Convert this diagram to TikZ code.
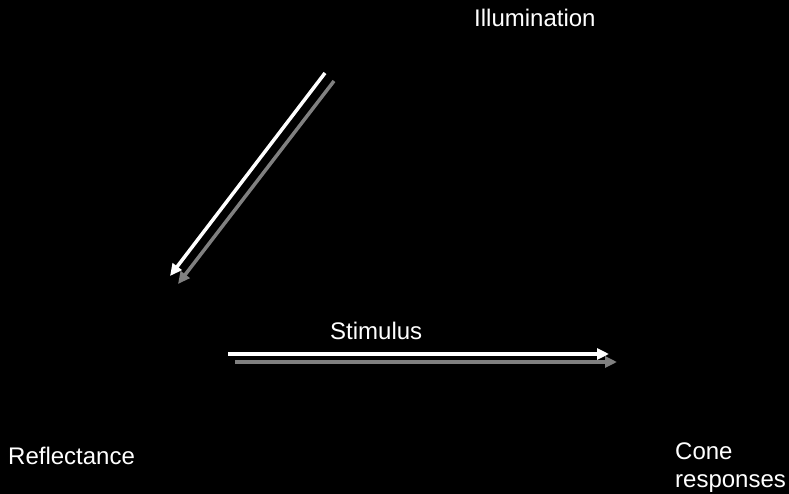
\documentclass[tikz,border=0pt]{standalone}
\usepackage{fontspec}
\setmainfont{Liberation Sans}
\usetikzlibrary{arrows.meta}
\tikzset{
    label text/.style={text=white, font=\fontsize{24}{28}\selectfont, inner sep=0pt, anchor=west},
    front arrow/.style={draw=white, line width=3.5pt, -{Triangle[length=12pt, width=11pt]}},
    shadow arrow/.style={draw=gray, line width=3.5pt, -{Triangle[length=12pt, width=11pt]}},
}
\begin{document}
\begin{tikzpicture}[x=1pt, y=-1pt]
    \fill[black] (0,0) rectangle (789,494);
    \useasboundingbox (0,0) rectangle (789,494);
    \node[label text] (illum) at (474,18) {Illumination};
    \node[label text] (stim) at (330,331) {Stimulus};
    \node[label text] (refl) at (8,456) {Reflectance};
    \node[label text, align=left, anchor=north west] (cone) at (675,443) {Cone\\responses};
    \coordinate (illum start) at (325,73);
    \coordinate (illum end) at (170,276);
    \coordinate (illum shadow start) at (334,81);
    \coordinate (illum shadow end) at (178,284);
    \coordinate (stim start) at (228,354);
    \coordinate (stim end) at (609,354);
    \coordinate (stim shadow start) at (235,362);
    \coordinate (stim shadow end) at (617,362);
    \draw[shadow arrow] (illum shadow start) -- (illum shadow end);
    \draw[front arrow] (illum start) -- (illum end);
    \draw[shadow arrow] (stim shadow start) -- (stim shadow end);
    \draw[front arrow] (stim start) -- (stim end);
\end{tikzpicture}
\end{document}
